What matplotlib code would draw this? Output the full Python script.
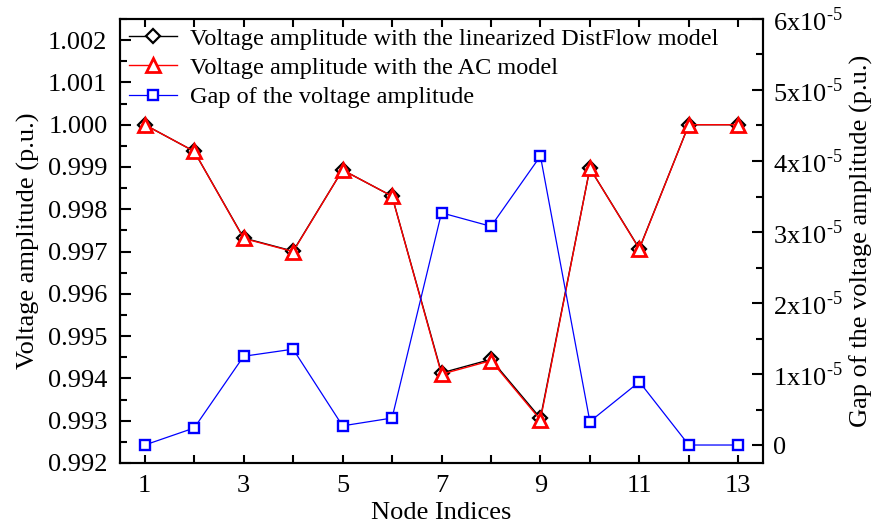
import numpy as np
import matplotlib
matplotlib.use("Agg")
import matplotlib.pyplot as plt
from matplotlib.ticker import MultipleLocator, FuncFormatter

plt.rcParams['font.family'] = ['Liberation Serif', 'DejaVu Serif']
plt.rcParams['mathtext.fontset'] = 'custom'
plt.rcParams['mathtext.rm'] = 'Liberation Serif'

# node indices and voltages
nodes = [1, 2, 3, 4, 5, 6, 7, 8, 9, 10, 11, 12, 13]
v_linear = [1.00000, 0.99937, 0.99732, 0.99701, 0.99893, 0.99831, 0.99413,
            0.99445, 0.99306, 0.99897, 0.99707, 1.00000, 1.00000]
v_ac = [1.00000, 0.99937, 0.99731, 0.99700, 0.99893, 0.99831, 0.99410,
        0.99442, 0.99302, 0.99897, 0.99706, 1.00000, 1.00000]
gap = [0.0, 0.24e-5, 1.25e-5, 1.35e-5, 0.27e-5, 0.38e-5, 3.27e-5,
       3.08e-5, 4.07e-5, 0.33e-5, 0.89e-5, 0.0, 0.0]

labels = ["Voltage amplitude with the linearized DistFlow model",
          "Voltage amplitude with the AC model",
          "Gap of the voltage amplitude"]

fig = plt.figure(figsize=(8.74, 5.26), dpi=100)
ax = fig.add_axes([0.1373, 0.1198, 0.7357, 0.8441])
ax2 = ax.twinx()

l1, = ax.plot(nodes, v_linear, color='black', lw=1, marker='D', ms=7.5,
              mfc='white', mec='black', mew=1.6, label=labels[0])
l2, = ax.plot(nodes, v_ac, color='red', lw=1, marker='^', ms=10,
              mfc='white', mec='red', mew=2, label=labels[1])
l3, = ax2.plot(nodes, gap, color='blue', lw=0.9, marker='s', ms=7,
               mfc='white', mec='blue', mew=1.7, label=labels[2])

ax.set_xlim(0.5, 13.5)
ax.set_ylim(0.992, 1.0025)
ax2.set_ylim(-0.253e-5, 6.0e-5)

ax.set_xticks([1, 3, 5, 7, 9, 11, 13])
ax.xaxis.set_minor_locator(MultipleLocator(1))
ax.yaxis.set_major_locator(MultipleLocator(0.001))
ax.yaxis.set_minor_locator(MultipleLocator(0.0005))
ax.yaxis.set_major_formatter(FuncFormatter(lambda v, p: f"{v:.3f}"))

ax2.yaxis.set_major_locator(MultipleLocator(1e-5))
ax2.yaxis.set_minor_locator(MultipleLocator(0.5e-5))


def gap_fmt(v, p):
    n = int(round(v / 1e-5))
    if n == 0:
        return "0"
    return r"%dx10$^{\text{-5}}$" % n


ax2.yaxis.set_major_formatter(FuncFormatter(gap_fmt))

ax.tick_params(axis='both', which='major', direction='in', length=8, width=1.5,
               labelsize=19, top=True)
ax.tick_params(axis='both', which='minor', direction='in', length=5, width=1.5,
               top=True)
ax.tick_params(axis='x', which='both', length=6)
ax.tick_params(axis='x', which='major', pad=9)
ax.tick_params(axis='y', which='major', pad=9)
ax2.tick_params(axis='y', which='major', direction='in', length=8, width=1.5,
                labelsize=19, pad=7)
ax2.tick_params(axis='y', which='minor', direction='in', length=5, width=1.5)

for a in (ax, ax2):
    for s in a.spines.values():
        s.set_linewidth(1.5)

ax.set_xlabel("Node Indices", fontsize=19, labelpad=3)
ax.set_ylabel("Voltage amplitude (p.u.)", fontsize=19, labelpad=6)
ax2.set_ylabel("Gap of the voltage amplitude (p.u.)", fontsize=19)
ax2.yaxis.set_label_coords(1.135, 0.5)

ax2.legend(handles=[l1, l2, l3], loc='upper left', frameon=False,
           fontsize=17.5, handlelength=2.0, handletextpad=0.55,
           labelspacing=0.3, borderaxespad=0.1, borderpad=0.25)

fig.savefig("out.png", dpi=100)
